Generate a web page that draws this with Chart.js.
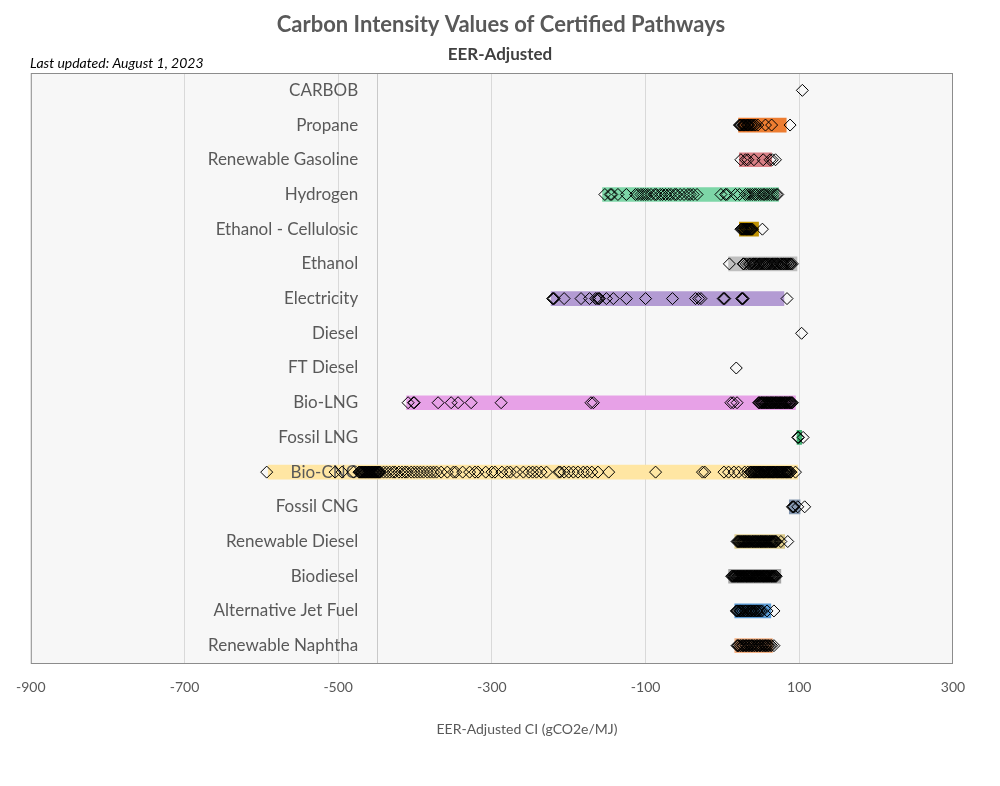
<!DOCTYPE html>
<html>
<head>
<meta charset="utf-8">
<title>Carbon Intensity Values of Certified Pathways</title>
<script src="https://cdn.jsdelivr.net/npm/chart.js@4.4.0/dist/chart.umd.min.js"></script>
<style>
  body { margin: 0; background: #ffffff; }
  #wrap { width: 1000px; height: 786px; }
</style>
</head>
<body>
<div id="wrap"><canvas id="ciChart" width="1000" height="786"></canvas></div>
<script>
// categories, top to bottom
const categories = [
  "CARBOB", "Propane", "Renewable Gasoline", "Hydrogen", "Ethanol - Cellulosic",
  "Ethanol", "Electricity", "Diesel", "FT Diesel", "Bio-LNG", "Fossil LNG",
  "Bio-CNG", "Fossil CNG", "Renewable Diesel", "Biodiesel", "Alternative Jet Fuel",
  "Renewable Naphtha",
];

// range bars (min / max CI), null = no bar
const rangeMin = [null, 21, 22, -156, 22, 8, -223, null, null, -411, 97, -591, 87, 16, 8, 16, 16];
const rangeMax = [null, 83, 64, 73, 47, 97, 80, null, null, 95, 103, 98, 101, 81, 76, 63, 65];

const barColors = [
  "#ffffff", "#ED7D31", "#D98086", "#7DD6A7", "#BF9000", "#BFBFBF", "#B39BD3",
  "#ffffff", "#ffffff", "#E7A1E7", "#3CB371", "#FFE6A3", "#8497B0", "#DDCB8C",
  "#A5A5A5", "#5B9BD5", "#F4B183",
];

// certified pathway CI values per category
const ptsCarbob = [104];
const ptsPropane = [22, 23, 24, 26, 27, 28, 29, 30, 32, 33, 34, 35, 37, 38, 40, 42, 43, 46, 56, 64, 88];
const ptsRenGasoline = [24, 30, 33, 41, 53, 62, 65, 69];
const ptsHydrogen = [-153, -146, -144, -136, -125, -113, -110, -106, -103, -100, -97, -93, -88, -86,
  -81, -78, -74, -70, -67, -62, -60, -55, -50, -45, -42, -38, -33, -2, 4, 6, 17, 22, 30, 33, 36,
  39, 42, 44, 47, 50, 53, 55, 58, 61, 64, 67, 70, 72];
const ptsEthCellulosic = [24, 25, 26, 27, 28, 29, 30.5, 31, 32, 33, 34, 35, 36, 37, 38, 39, 52];
const ptsEthanol = [9, 27, 28, 31, 34, 36, 38, 40, 41, 43, 44, 46, 48, 49, 51, 52, 54, 55, 57, 58,
  60, 61, 63, 65, 66, 68, 69, 71, 72, 74, 76, 77, 79, 80, 82, 83, 85, 86, 88, 89, 91];
const ptsElectricity = [-221, -220, -219, -206, -184, -173, -165, -163, -161, -160, -151, -142, -125,
  -100, -65, -35, -31, -28, 1, 2, 3, 25, 26, 27, 84];
const ptsDiesel = [103];
const ptsFTDiesel = [18];
const ptsBioLNG = [-409, -402, -401, -370, -353, -344, -327, -288, -171, -168, 11, 14, 19, 47, 48,
  49, 50.5, 51, 52, 53, 54, 55, 56.5, 57, 58, 59, 60, 61, 62.5, 63, 64, 65, 66, 67, 68.5, 69, 70,
  71, 72, 73, 74.5, 75, 76, 77, 78, 79, 80.5, 81, 82, 83, 84, 85, 86.5, 87, 88, 89, 90, 91];
const ptsFossilLNG = [98, 99, 105];
const ptsBioCNG = [-593, -504, -495, -480, -473, -472, -471, -470, -469, -468, -467, -466, -465,
  -464, -463, -462, -461, -460, -459, -458, -457, -456, -455, -454, -453, -452, -451, -450, -449,
  -448, -447, -446, -445, -441, -437, -433, -429, -426, -421, -417, -413, -410, -405, -401, -397,
  -393, -389, -384, -380, -376, -372, -366, -358, -350, -347, -338, -329, -322, -318, -308, -300,
  -296, -287, -280, -276, -268, -259, -252, -247, -242, -236, -229, -213, -211, -206, -200, -194,
  -188, -181, -176, -170, -162, -148, -87, -26, -23, 2, 8, 15, 21, 29, 33, 36, 37, 38, 39, 40.5,
  41, 42, 43, 44, 45, 46.5, 47, 48, 49, 50, 51, 52.5, 53, 54, 55, 56, 57, 58.5, 59, 60, 61, 62,
  63, 64.5, 65, 66, 67, 68, 69, 70.5, 71, 72, 73, 74, 75, 76.5, 77, 78, 79, 80, 81, 82.5, 83, 84,
  85, 86, 87, 88.5, 89, 95];
const ptsFossilCNG = [91, 92, 93, 98, 107];
const ptsRenDiesel = [19, 20, 21, 22, 23, 24, 25, 26, 27.5, 28, 29, 30, 31, 32, 33, 34, 35, 36,
  37, 38.5, 39, 40, 41, 42, 43, 44, 45, 46, 47, 48, 49.5, 50, 51, 52, 53, 54, 55, 56, 57, 58,
  59, 60.5, 61, 62, 63, 64, 65, 66, 67, 68, 69, 70, 76, 85];
const ptsBiodiesel = [12, 13, 14, 15, 16, 17, 18, 19.5, 20, 21, 22, 23, 24, 25, 26, 27, 28, 29,
  30.5, 31, 32, 33, 34, 35, 36, 37, 38, 39, 40, 41.5, 42, 43, 44, 45, 46, 47, 48, 49, 50, 51,
  52.5, 53, 54, 55, 56, 57, 58, 59, 60, 61, 62, 63.5, 64, 65, 66, 67, 68, 69, 70];
const ptsJetFuel = [18, 19, 20, 22, 23, 24, 26, 27, 29, 30, 31, 33, 34, 36, 37, 38, 40, 41, 43, 44,
  45, 47, 48, 50, 52, 58, 67];
const ptsNaphtha = [19, 20, 21, 23, 24, 26, 27, 28, 30, 31, 32, 34, 35, 37, 38, 39, 41, 42, 44, 45,
  46, 48, 49, 50, 52, 53, 55, 56, 57, 59, 60, 62, 64, 67];

const pointSets = [
  ptsCarbob, ptsPropane, ptsRenGasoline, ptsHydrogen, ptsEthCellulosic, ptsEthanol,
  ptsElectricity, ptsDiesel, ptsFTDiesel, ptsBioLNG, ptsFossilLNG, ptsBioCNG, ptsFossilCNG,
  ptsRenDiesel, ptsBiodiesel, ptsJetFuel, ptsNaphtha,
];

// x axis
const xMin = -900;
const xMax = 300;
const xStep = 200;
const refLine = -450;      // faint vertical line in the original
const labelEdge = -474;    // category labels end here (right aligned)

const FONT = "Lato, 'Open Sans', sans-serif";

const barData = categories.map((c, i) =>
  rangeMin[i] === null ? null : [rangeMin[i], rangeMax[i]]
);
const scatterData = pointSets.flatMap((vals, i) =>
  vals.map((v) => ({ x: v, y: categories[i] }))
);

// plot area background, border, ref line, labels, titles
const decor = {
  id: "decor",
  beforeDraw(chart) {
    const { ctx, chartArea: a } = chart;
    ctx.save();
    ctx.fillStyle = "#F7F7F7";
    ctx.fillRect(a.left, a.top, a.right - a.left, a.bottom - a.top);
    ctx.restore();
  },
  beforeDatasetsDraw(chart) {
    const { ctx, chartArea: a, scales } = chart;
    const x = scales.x.getPixelForValue(refLine);
    ctx.save();
    ctx.strokeStyle = "#C9C9C9";
    ctx.lineWidth = 1;
    ctx.beginPath();
    ctx.moveTo(Math.round(x) + 0.5, a.top);
    ctx.lineTo(Math.round(x) + 0.5, a.bottom);
    ctx.stroke();
    ctx.restore();
  },
  afterDatasetDraw(chart, args) {
    if (args.index !== 0) return;
    const { ctx, scales } = chart;
    const xr = scales.x.getPixelForValue(labelEdge);
    ctx.save();
    ctx.font = "17px " + FONT;
    ctx.fillStyle = "#595959";
    ctx.textAlign = "right";
    ctx.textBaseline = "middle";
    categories.forEach((c, i) => {
      ctx.fillText(c, xr, scales.y.getPixelForValue(i));
    });
    ctx.restore();
  },
  afterDraw(chart) {
    const { ctx, chartArea: a } = chart;
    ctx.save();
    ctx.strokeStyle = "#8C8C8C";
    ctx.lineWidth = 1;
    ctx.strokeRect(a.left + 0.5, a.top + 0.5, a.right - a.left - 1, a.bottom - a.top);

    ctx.textAlign = "center";
    ctx.textBaseline = "middle";
    ctx.fillStyle = "#595959";
    ctx.font = "bold 22px " + FONT;
    ctx.fillText("Carbon Intensity Values of Certified Pathways", 501, 25);
    ctx.fillStyle = "#404040";
    ctx.font = "bold 17px " + FONT;
    ctx.fillText("EER-Adjusted", 500, 55);

    ctx.fillStyle = "#595959";
    ctx.font = "14px " + FONT;
    ctx.fillText("EER-Adjusted CI (gCO2e/MJ)", 527, 729);

    ctx.fillStyle = "#000000";
    ctx.font = "italic 14px " + FONT;
    ctx.textAlign = "left";
    ctx.fillText("Last updated: August 1, 2023", 30, 63);
    ctx.restore();
  },
};

const ctx = document.getElementById("ciChart").getContext("2d");
const chart = new Chart(ctx, {
  type: "bar",
  data: {
    labels: categories,
    datasets: [
      {
        type: "bar",
        data: barData,
        backgroundColor: barColors,
        barThickness: 14,
        grouped: false,
        order: 2,
      },
      {
        type: "scatter",
        data: scatterData,
        pointStyle: "rectRot",
        pointRadius: 6,
        borderColor: "#000000",
        borderWidth: 1,
        backgroundColor: "rgba(0,0,0,0)",
        order: 1,
      },
    ],
  },
  options: {
    indexAxis: "y",
    responsive: false,
    animation: false,
    layout: { padding: { left: 28, right: 47, top: 73, bottom: 0 } },
    plugins: {
      legend: { display: false },
      tooltip: { enabled: false },
    },
    scales: {
      x: {
        type: "linear",
        min: xMin,
        max: xMax,
        ticks: {
          stepSize: xStep,
          color: "#595959",
          font: { family: FONT, size: 14 },
          padding: 16,
        },
        grid: {
          drawTicks: false,
          color: (c) =>
            c.tick && (c.tick.value === xMin || c.tick.value === xMax) ? "rgba(0,0,0,0)" : "#D9D9D9",
        },
        border: { display: false },
        afterFit: (s) => { s.height = 123; },
      },
      y: {
        type: "category",
        labels: categories,
        display: false,
        offset: true,
      },
    },
  },
  plugins: [decor],
});
</script>
</body>
</html>
